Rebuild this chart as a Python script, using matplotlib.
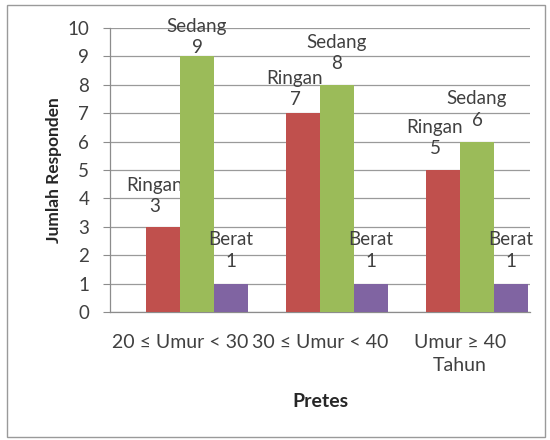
import numpy as np
import matplotlib.pyplot as plt
from matplotlib.patches import Rectangle

# data
categories = ['20 \u2264 Umur < 30', '30 \u2264 Umur < 40', 'Umur \u2265 40\nTahun']
series_names = ['Ringan', 'Sedang', 'Berat']
ringan = [3, 7, 5]
sedang = [9, 8, 6]
berat = [1, 1, 1]

colors = ['#C0504D', '#9BBB59', '#8064A2']


def main():
    plt.rcParams['font.family'] = ['Lato', 'DejaVu Sans']

    fig = plt.figure(figsize=(5.5, 4.4), dpi=100)
    ax = fig.add_axes([110 / 550, 1 - 312 / 440, 420 / 550, 284 / 440])

    # chart border
    fig.patches.append(Rectangle((7 / 550, 1 - 437 / 440), 538 / 550, 432 / 440,
                                 transform=fig.transFigure, fill=False,
                                 edgecolor='#9a9a9a', lw=1.0))

    x = np.arange(len(categories))
    w = 0.243
    values = [ringan, sedang, berat]

    # label tweaks (pixels): horizontal shift and gap above bar
    dx = [-8, 0, 0]
    gaps = [[12, 5, 13], [0, 13, 13], [14, 14, 14]]

    for k, (name, vals, c) in enumerate(zip(series_names, values, colors)):
        pos = x + (k - 0.5) * w
        ax.bar(pos, vals, width=w, color=c, zorder=3)
        for i, (p, v) in enumerate(zip(pos, vals)):
            ax.annotate(f'{name}\n{v}', (p, v), xytext=(dx[k], gaps[k][i]),
                        textcoords='offset pixels', ha='center', va='bottom',
                        fontsize=13.5, color='#404040', linespacing=1.3,
                        annotation_clip=False)

    ax.set_xlim(-0.5, 2.5)
    ax.set_ylim(0, 10)
    ax.set_yticks(range(0, 11))
    ax.set_xticks(x)
    ax.set_xticklabels(categories, fontsize=14, color='#404040', linespacing=1.4)
    ax.tick_params(axis='x', length=0, pad=16)
    ax.tick_params(axis='y', length=5, color='#8c8c8c', labelsize=13.5,
                   labelcolor='#404040', pad=10)

    ax.grid(axis='y', color='#9a9a9a', lw=0.9, zorder=0)
    for s in ['top', 'right']:
        ax.spines[s].set_visible(False)
    for s in ['left', 'bottom']:
        ax.spines[s].set_color('#8c8c8c')
        ax.spines[s].set_linewidth(0.9)

    ax.set_ylabel('Jumlah Responden', fontsize=12.5, fontweight='bold',
                  color='#262626', labelpad=4)
    ax.set_xlabel('Pretes', fontsize=14, fontweight='bold', color='#262626',
                  labelpad=14)

    fig.savefig('out.png', dpi=100)


if __name__ == '__main__':
    main()
